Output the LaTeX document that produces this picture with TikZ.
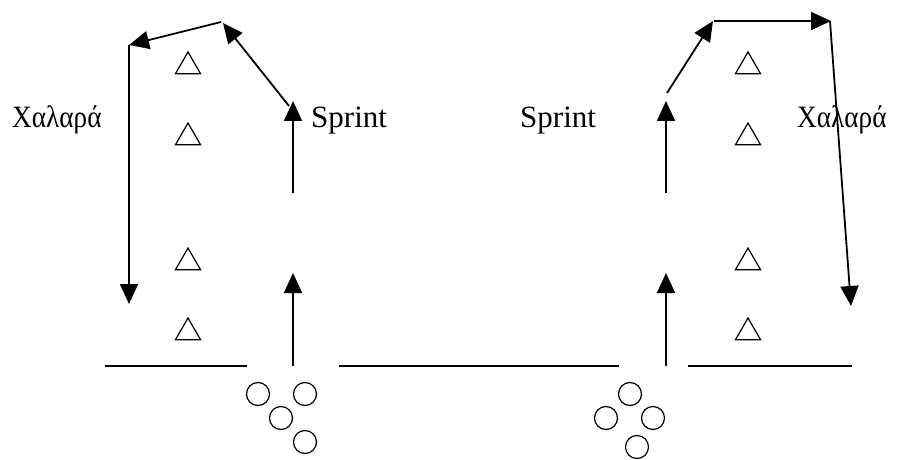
\documentclass[tikz,border=0pt]{standalone}
\usepackage{fontspec}
\setmainfont{Liberation Serif}
\usetikzlibrary{arrows.meta,shapes.geometric}
\begin{document}
\begin{tikzpicture}[x=1pt,y=-1pt,
  mv/.style={line width=1.8pt,-{Triangle[length=20pt,width=18pt]}},
  plain/.style={line width=1.6pt},
  cone/.style={draw,regular polygon,regular polygon sides=3,minimum size=29pt,inner sep=0pt,line width=1.2pt},
  player/.style={draw,circle,minimum size=23pt,inner sep=0pt,line width=1.2pt},
  lbl/.style={anchor=base west,inner sep=0pt,font=\fontsize{31}{36}\selectfont}]
\useasboundingbox (0,0) rectangle (898,460);
% labels
\node[lbl] (xl) at (12,128) {\scalebox{0.88}[1]{Χαλαρά}};
\node[lbl] (sl) at (311,128) {Sprint};
\node[lbl] (sr) at (520,128) {Sprint};
\node[lbl] (xr) at (797,128) {\scalebox{0.88}[1]{Χαλαρά}};
% cones
\foreach \n/\y in {1/66.5,2/137.5,3/262.5,4/332.5}{
  \node[cone] (tL\n) at (188,\y) {};
  \node[cone] (tR\n) at (748,\y) {};
}
% players
\node[player] (cL1) at (258,394) {};
\node[player] (cL2) at (305,394) {};
\node[player] (cL3) at (281,418) {};
\node[player] (cL4) at (305,442) {};
\node[player] (cR1) at (630,394) {};
\node[player] (cR2) at (606,418) {};
\node[player] (cR3) at (653,418) {};
\node[player] (cR4) at (637,447) {};
% baselines
\coordinate (b1) at (105,366); \coordinate (b2) at (247,366);
\coordinate (b3) at (339,366); \coordinate (b4) at (619,366);
\coordinate (b5) at (688,366); \coordinate (b6) at (852,366);
\draw[plain] (b1) -- (b2);
\draw[plain] (b3) -- (b4);
\draw[plain] (b5) -- (b6);
% left route
\coordinate (lsa) at (293,366); \coordinate (lsb) at (293,273);
\coordinate (lsc) at (293,193); \coordinate (lsd) at (293,101);
\coordinate (lda) at (289,106); \coordinate (ldb) at (223,23);
\coordinate (lta) at (221,22); \coordinate (ltb) at (129,45);
\coordinate (lva) at (129,45); \coordinate (lvb) at (129,304);
\draw[mv] (lsa) -- (lsb);
\draw[mv] (lsc) -- (lsd);
\draw[mv] (lda) -- (ldb);
\draw[mv] (lta) -- (ltb);
\draw[mv] (lva) -- (lvb);
% right route
\coordinate (rsa) at (666,366); \coordinate (rsb) at (666,273);
\coordinate (rsc) at (666,193); \coordinate (rsd) at (666,101);
\coordinate (rda) at (667,93); \coordinate (rdb) at (713,21);
\coordinate (rta) at (714,21); \coordinate (rtb) at (831,21);
\coordinate (rva) at (830,21); \coordinate (rvb) at (851,306);
\draw[mv] (rsa) -- (rsb);
\draw[mv] (rsc) -- (rsd);
\draw[mv] (rda) -- (rdb);
\draw[mv] (rta) -- (rtb);
\draw[mv] (rva) -- (rvb);
\end{tikzpicture}
\end{document}
